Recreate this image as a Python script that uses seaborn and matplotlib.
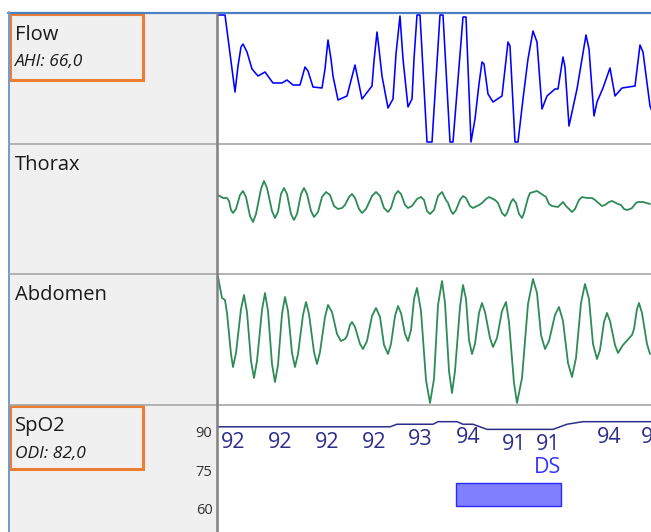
import matplotlib
matplotlib.use("Agg")
import matplotlib.pyplot as plt
from matplotlib.patches import Rectangle
import seaborn as sns

# Datos (tiempo en muestras, 433 visibles)
flow_t = [0, 7, 17, 20, 23, 25, 29, 34, 40, 47, 55, 64, 69, 75, 82, 87, 90, 95, 104, 107, 110,
          113, 115, 120, 129, 137, 144, 154, 156, 159, 161, 164, 170, 175, 178, 182, 185, 190,
          194, 196, 199, 202, 209, 214, 222, 225, 232, 235, 245, 248, 253, 257, 261, 264, 266,
          270, 275, 284, 287, 290, 292, 297, 300, 305, 310, 315, 319, 324, 329, 337, 340, 345,
          347, 351, 359, 364, 368, 371, 376, 379, 385, 392, 397, 404, 417, 422, 425, 432, 437]
flow_v = [64, 64, -13, 13, 32, 35, 27, 10, 3, 7, -4, -4, -1, -6, -6, 12, 8, -8, -9, 10, 39,
          20, 3, -21, -17, 14, -20, -7, 18, 47, 30, 3, -29, -20, 25, 63, 20, -28,
          -20, 20, 64, 64, -63, -63, 64, 64, -63, -63, 62, 62, -63, -40, -5, 17, 15,
          -15, -23, -17, 10, 37, 33, -63, -63, -20, 20, 48, 37, -30, -17, -10, -10, 22,
          12, -47, -10, 20, 44, 30, -37, -23, -9, 11, -17, -9, -7, 34, 27, -27, -40]

thorax_t = [0, 5, 9, 11, 13, 15, 18, 22, 25, 28, 32, 35, 38, 43, 46, 49, 54, 57, 60, 63, 66,
            69, 73, 76, 79, 83, 86, 89, 93, 96, 100, 104, 108, 112, 116, 120, 124, 127, 131,
            134, 137, 141, 144, 148, 154, 158, 162, 166, 170, 173, 177, 180, 183, 187, 190,
            194, 199, 203, 206, 209, 212, 216, 220, 224, 228, 230, 233, 235, 238, 242, 245,
            248, 252, 255, 261, 264, 268, 271, 277, 280, 284, 287, 289, 293, 295, 298, 301,
            304, 306, 310, 312, 319, 325, 328, 331, 334, 340, 345, 348, 354, 357, 361, 364,
            369, 374, 377, 384, 387, 391, 394, 400, 403, 406, 409, 412, 414, 418, 420, 425, 432]
thorax_v = [14, 11, 11, 8, -1, -4, 0, 14, 18, 12, -7, -13, -5, 20, 28, 21, -2, -9, -3, 15, 21,
            15, -5, -11, -5, 15, 21, 15, -2, -8, -3, 12, 17, 14, 3, 0, 1, 4, 12,
            15, 11, 0, -4, 0, 13, 17, 13, 1, -3, 1, 14, 18, 15, 4, 1,
            3, 10, 12, 9, -2, -5, -1, 13, 17, 9, 6, -2, -5, -1, 9, 13,
            11, 3, 1, 4, 6, 10, 12, 9, 6, -4, -7, -4, 7, 10, 6, -5,
            -9, -4, 11, 16, 18, 14, 12, 5, 3, 2, 7, 3, -3, 0, 9, 12,
            11, 11, 9, 3, 4, 7, 8, 5, 4, 0, -1, 0, 1, 6, 7, 7, 5]

abdomen_t = [0, 4, 7, 9, 13, 15, 18, 23, 26, 29, 33, 36, 39, 44, 47, 50, 54, 57, 60, 64, 67,
             70, 74, 77, 80, 85, 88, 91, 96, 99, 102, 107, 110, 114, 119, 123, 127, 129, 132,
             134, 137, 142, 145, 149, 154, 158, 162, 166, 170, 173, 177, 180, 183, 187, 190,
             193, 196, 199, 203, 208, 212, 216, 220, 224, 227, 231, 234, 237, 242, 245, 248,
             251, 254, 257, 261, 264, 267, 272, 275, 279, 284, 288, 291, 296, 299, 304, 310,
             315, 319, 323, 327, 331, 337, 341, 345, 350, 354, 358, 363, 367, 371, 375, 379,
             382, 386, 389, 392, 397, 400, 405, 414, 416, 419, 421, 424, 429, 432]
abdomen_v = [62, 41, 39, 26, -15, -28, -14, 30, 44, 27, -22, -39, -22, 29, 46, 28, -25, -43, -26, 25, 42,
             28, -14, -28, -15, 24, 37, 25, -13, -25, -13, 22, 34, 27, 5, -2, 0, 3, 14,
             17, 12, -5, -10, -2, 23, 31, 22, -6, -15, -5, 23, 33, 26, 5, -2,
             9, 40, 51, 28, -41, -64, -40, 34, 58, 36, -32, -54, -32, 32, 54, 40,
             -1, -15, -5, 26, 36, 27, 1, -8, 1, 28, 37, 17, -44, -64, -39, 35,
             60, 46, 4, -10, -2, 24, 32, 18, -24, -38, -19, 36, 55, 40, -5, -20,
             -11, 17, 26, 18, -6, -14, -6, 4, 10, 30, 36, 26, -5, -15]

spo2_t = [0, 172, 179, 215, 220, 239, 245, 255, 269, 335, 349, 365, 440]
spo2_v = [92, 92, 93, 93, 94, 94, 93, 93, 91, 91, 93, 94, 94]

spo2_label_t = [15, 62, 109, 156, 202, 250, 296, 330, 391, 435]
spo2_label_v = [92, 92, 92, 92, 93, 94, 91, 91, 94, 94]

ds_start, ds_end = 238, 343
ds_label = "DS"

canales = [("Flow", "AHI: 66,0"), ("Thorax", None), ("Abdomen", None), ("SpO2", "ODI: 82,0")]

sns.set_style("white")
plt.rcParams["font.family"] = ["Open Sans", "DejaVu Sans"]

W, H = 651, 532
fig = plt.figure(figsize=(W / 100, H / 100), dpi=100)


def px_axes(x0, y0, x1, y1, **kw):
    return fig.add_axes([x0 / W, 1 - y1 / H, (x1 - x0) / W, (y1 - y0) / H], **kw)


# fondo gris de la columna de etiquetas
bg = px_axes(0, 0, W, H, zorder=0)
bg.set_xlim(0, W)
bg.set_ylim(H, 0)
bg.axis("off")
bg.add_patch(Rectangle((9, 13), 208, H - 13, color="#f0f0f0", lw=0))

filas = [13, 144, 274, 405, 532]
axs = [px_axes(218, filas[i], W, filas[i + 1], zorder=5) for i in range(4)]

verde = "#2e8b57"
sns.lineplot(x=flow_t, y=flow_v, ax=axs[0], color="#0000ff", linewidth=1.15, estimator=None)
sns.lineplot(x=thorax_t, y=thorax_v, ax=axs[1], color=verde, linewidth=1.3, estimator=None)
sns.lineplot(x=abdomen_t, y=abdomen_v, ax=axs[2], color=verde, linewidth=1.3, estimator=None)
sns.lineplot(x=spo2_t, y=spo2_v, ax=axs[3], color="#2d2d8b", linewidth=1.1, estimator=None)

axs[0].set_ylim(-65, 66)
axs[1].set_ylim(-65, 65)
axs[2].set_ylim(-66, 65)
axs[3].set_ylim(51, 100.5)

for ax in axs:
    ax.set_xlim(0, 433)
    ax.set_xticks([])
    ax.set_xlabel("")
    ax.set_ylabel("")
    ax.set_facecolor("white")
    for s in ax.spines.values():
        s.set_visible(False)
for ax in axs[:3]:
    ax.set_yticks([])

# SpO2: escala, valores y evento de desaturacion
ax = axs[3]
ax.set_yticks([60, 75, 90])
ax.tick_params(axis="y", length=0, pad=4, labelsize=10.5, labelcolor="#333333")
for t, v in zip(spo2_label_t, spo2_label_v):
    ax.text(t, v - 6, str(v), ha="center", va="center", fontsize=15.5,
            color="#2d2d8b", clip_on=False)
ax.bar(ds_start, 70 - 61, width=ds_end - ds_start, bottom=61, align="edge",
       color="#8080ff", edgecolor="#2a2aff", linewidth=1.0)
ax.text(ds_end, 76, ds_label, ha="right", va="center", fontsize=15.5, color="#3333ff")

# capa superior: bordes, separadores, textos y recuadros
ov = px_axes(0, 0, W, H, zorder=10)
ov.set_xlim(0, W)
ov.set_ylim(H, 0)
ov.axis("off")
ov.patch.set_alpha(0)
ov.plot([8, W], [12.5, 12.5], color="#4a7fc1", lw=1.6)
ov.plot([8.7, 8.7], [12, H], color="#6d9ad8", lw=1.4)
for y in filas[1:4]:
    ov.plot([9, W], [y, y], color="#a6a6a6", lw=1.2)
ov.plot([217, 217], [13, H], color="#808080", lw=1.8)

for (nombre, sub), top in zip(canales, filas[:4]):
    ov.text(15, top + 26.5, nombre, fontsize=14.5, color="#1a1a1a", va="baseline")
    if sub:
        ov.text(15, top + 52.5, sub, fontsize=12.5, style="italic", color="#1a1a1a",
                va="baseline")
        ov.add_patch(Rectangle((9.5, top + 0.5), 133, 66 if top < 100 else 63,
                               fill=False, edgecolor="#ed7d31", lw=2.2))

fig.savefig("out.png", dpi=100)
plt.close()
